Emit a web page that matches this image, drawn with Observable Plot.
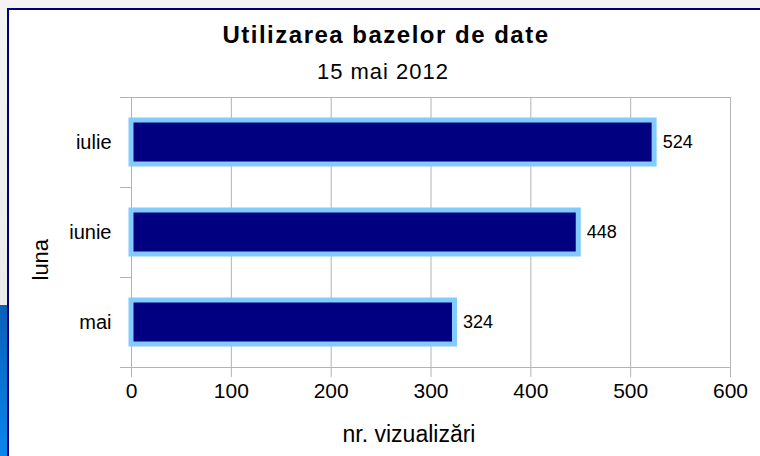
<!DOCTYPE html>
<html>
<head>
<meta charset="utf-8">
<script src="https://cdn.jsdelivr.net/npm/d3@7"></script>
<script src="https://cdn.jsdelivr.net/npm/@observablehq/plot@0.6"></script>
<style>
  html, body { margin: 0; padding: 0; }
  body { width: 760px; height: 456px; overflow: hidden; position: relative;
         background: linear-gradient(#f4f4f4, #e6e6e6); font-family: "Liberation Sans", Arial, sans-serif; }
  #strip { position: absolute; left: 0; top: 305px; width: 7px; height: 151px;
           background: linear-gradient(#0a5fb8, #0a86ec); }
  #frame { position: absolute; left: 7px; top: 8px; width: 760px; height: 460px;
           border-top: 2px solid #00007a; border-left: 2px solid #00007a; background: #fff; }
  #title { position: absolute; left: 0; width: 772px; top: 23px; text-align: center;
           font-size: 24px; line-height: 24px; font-weight: bold; letter-spacing: 1.5px; color: #000; }
  #subtitle { position: absolute; left: 0; width: 766px; top: 61px; text-align: center;
              font-size: 22px; line-height: 22px; letter-spacing: 1px; color: #000; }
  #chart { position: absolute; left: 0; top: 88px; }
</style>
</head>
<body>
<div id="strip"></div>
<div id="frame"></div>
<div id="title">Utilizarea bazelor de date</div>
<div id="subtitle">15 mai 2012</div>
<div id="chart"></div>
<script>
const months = ["iulie", "iunie", "mai"];
const views = [524, 448, 324];
const xTicks = [0, 100, 200, 300, 400, 500, 600];
const xTitle = "nr. vizualizări";
const yTitle = "luna";

const data = months.map((m, i) => ({luna: m, n: views[i]}));

const W = 760, H = 368, mT = 9, mB = 89;
const step = (H - mT - mB) / months.length;
const gray = "#b3b3b3";

const chart = Plot.plot({
  width: W, height: H,
  marginLeft: 131, marginRight: 30, marginTop: mT, marginBottom: mB,
  style: {fontFamily: "'Liberation Sans', Arial, sans-serif", background: "transparent", overflow: "visible", color: "#000"},
  x: {domain: [0, 600]},
  y: {domain: months, padding: 0},
  marks: [
    Plot.gridX(xTicks, {stroke: gray, strokeOpacity: 1}),
    Plot.frame({stroke: gray}),
    Plot.axisX(xTicks, {tickSize: 10, tickPadding: 6, fontSize: 21, stroke: gray, fill: "#000", label: null}),
    Plot.axisY({tickSize: 0, tickPadding: 20, fontSize: 20, fill: "#000", label: null}),
    Plot.axisY(months, {tickSize: 11, stroke: gray, fill: "none", dy: -step / 2, label: null}),
    Plot.axisY(months.slice(-1), {tickSize: 11, stroke: gray, fill: "none", dy: step / 2, label: null}),
    Plot.barX(data, {x: "n", y: "luna", fill: "#000080", stroke: "#83caff", strokeWidth: 5, insetTop: 23, insetBottom: 23}),
    Plot.text(data, {x: "n", y: "luna", text: d => String(d.n), textAnchor: "start", dx: 8, fontSize: 18, fill: "#000"}),
    Plot.text([xTitle], {frameAnchor: "bottom", dx: -22, dy: 74, fontSize: 23, fill: "#000"}),
    Plot.text([yTitle], {frameAnchor: "left", rotate: -90, dx: -91, dy: 48, fontSize: 22, fill: "#000"})
  ]
});
document.getElementById("chart").appendChild(chart);
</script>
</body>
</html>
